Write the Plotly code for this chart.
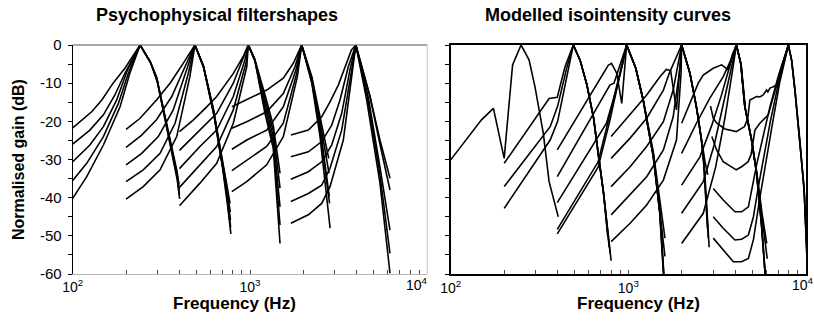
import plotly.graph_objects as go

# ---------------- data: (frequency Hz, normalised gain dB) ----------------
# Left panel: psychophysical filter shapes
psy_250_low = [
    [(100, -21.7), (128, -17.5), (146, -14.4), (169, -10), (197, -6.1), (240, 0)],
    [(100, -26), (125, -22.3), (149, -18.3), (173, -13.1), (197, -7.4), (240, 0)],
    [(100, -30.6), (125, -26.2), (149, -21.4), (177, -14.4), (202, -7), (240, 0)],
    [(100, -35.5), (120, -31), (149, -24), (181, -15.3), (206, -7.4), (240, 0)],
    [(100, -40.2), (120, -34.5), (149, -26.2), (185, -16.2), (210, -7.4), (240, 0)],
]
psy_250_up = [
    [(240, 0), (273, -4.2), (297, -8.3), (324, -16.2), (354, -24.9), (386, -32.7), (398, -36.5)],
    [(240, 0), (274, -4.5), (298, -8.8), (325, -16.8), (355, -25.6), (387, -33.5), (399, -37.8)],
    [(240, 0), (275, -4.6), (299, -9.2), (326, -17.4), (356, -26.3), (388, -34.5), (400, -39.2)],
    [(240, 0), (276, -4.8), (300, -9.6), (327, -18), (357, -27), (389, -35.4), (401, -40.3)],
]
psy_500_low = [
    [(200, -22.1), (240, -19.2), (297, -14.4), (354, -10), (420, -4.8), (489, 0)],
    [(200, -26.8), (245, -23.6), (297, -19.6), (362, -13.5), (430, -5.7), (489, 0)],
    [(200, -31.4), (245, -28.4), (304, -24), (369, -17), (439, -6.5), (489, 0)],
    [(200, -35.8), (250, -32.7), (311, -28.4), (378, -20.5), (449, -7.4), (489, 0)],
    [(200, -40.4), (250, -37.1), (311, -32.7), (386, -24), (458, -8.3), (489, 0)],
]
psy_500_up = [
    [(489, 0), (545, -5.3), (620, -16.5), (690, -28.5), (738, -36), (772, -41.5)],
    [(489, 0), (546, -5.5), (622, -17), (693, -29.5), (741, -37.5), (774, -43.8)],
    [(489, 0), (547, -5.7), (624, -17.6), (696, -30.5), (743, -39), (776, -45.8)],
    [(489, 0), (548, -5.9), (626, -18.2), (699, -31.5), (745, -40.5), (778, -47.8)],
    [(489, 0), (549, -6.1), (628, -18.8), (702, -32.5), (747, -42), (780, -49.5)],
]
psy_1000_low = [
    [(400, -22.7), (480, -19.6), (570, -16.2), (649, -13.5), (804, -7.5), (916, -3), (978, 0)],
    [(400, -27.6), (522, -22.3), (649, -17.9), (805, -10), (917, -3.1), (978, 0)],
    [(400, -32.4), (522, -26.6), (649, -22.3), (805, -13.5), (936, -3.9), (978, 0)],
    [(400, -37.3), (522, -31.4), (649, -26.6), (805, -17), (948, -4.8), (978, 0)],
    [(400, -42.1), (522, -36.2), (649, -31), (805, -20.5), (959, -5.7), (978, 0)],
]
psy_1000_up = [
    [(978, 0), (1060, -3.5), (1215, -13), (1352, -21), (1477, -33.6)],
    [(978, 0), (1062, -3.7), (1215, -14.2), (1352, -22.5), (1477, -37.5)],
    [(978, 0), (1064, -3.9), (1215, -15.5), (1352, -24), (1477, -42.4)],
    [(978, 0), (1066, -4.1), (1215, -16.8), (1352, -25.5), (1477, -47.2)],
    [(978, 0), (1068, -4.3), (1215, -18), (1352, -27), (1477, -52)],
]
psy_2000_low = [
    [(790, -16.2), (959, -14.4), (1242, -11.8), (1541, -8.7), (1755, -4.8), (1957, 0)],
    [(790, -21.8), (959, -20.1), (1242, -17.5), (1541, -12.7), (1794, -5.7), (1957, 0)],
    [(790, -27.3), (959, -24.9), (1242, -22.3), (1541, -16.2), (1818, -6.5), (1957, 0)],
    [(790, -32.9), (959, -30.1), (1242, -26.6), (1541, -20.5), (1835, -7.4), (1957, 0)],
    [(790, -38.4), (959, -35.8), (1242, -31.4), (1541, -24), (1850, -8.3), (1957, 0)],
]
psy_2000_up = [
    [(1957, 0), (2232, -8.3), (2483, -18.8), (2780, -29.7)],
    [(1957, 0), (2232, -8.7), (2483, -20), (2790, -33.6)],
    [(1957, 0), (2232, -9.1), (2483, -21.4), (2800, -39.7)],
    [(1957, 0), (2232, -9.5), (2483, -22.6), (2810, -41.5)],
    [(1957, 0), (2232, -10), (2483, -24), (2830, -48)],
]
psy_4000_low = [
    [(1700, -23.6), (2133, -22.3), (2538, -18.8), (2827, -14.9), (3148, -10.5), (3507, -4.8), (3735, -1.3), (3955, 0)],
    [(1700, -29.3), (2133, -28), (2538, -25.3), (2890, -21), (3218, -14.4), (3585, -5.7), (3955, 0)],
    [(1700, -35.2), (2133, -33.2), (2538, -30.6), (2890, -26.2), (3290, -17.9), (3664, -6.5), (3955, 0)],
    [(1700, -41), (2133, -38.9), (2538, -36.7), (2827, -32.3), (3290, -22.3), (3700, -7.4), (3955, 0)],
    [(1700, -46.7), (2133, -44.5), (2538, -41.5), (2827, -37.1), (3360, -24.9), (3735, -8.3), (3955, 0)],
]
psy_4000_up = [
    [(3955, 0), (4751, -13.5), (5409, -24.9), (6160, -34.9)],
    [(3955, 0), (4751, -13.5), (5409, -26), (6160, -38)],
    [(3955, 0), (4650, -13.8), (5409, -32), (6160, -48.5)],
    [(3955, 0), (4600, -14), (5409, -34), (6160, -54.6)],
    [(3955, 0), (4550, -14.4), (5409, -36.2), (6160, -59.8)],
]

# Right panel: modelled isointensity curves
mod_250 = [
    [(100, -30.1), (149, -19.6), (174, -16.6), (200, -29.7), (223, -5.2), (249, 0), (276, -3.9),
     (298, -10.9), (332, -23.1), (358, -35.8), (403, -45)],
]
mod_500_low = [
    [(200, -31), (358, -14), (398, -13.7), (440, -5.7), (490, 0)],
    [(200, -37.1), (363, -21.4), (400, -16), (450, -6), (490, 0)],
    [(200, -42.8), (363, -24.9), (400, -20), (455, -7), (490, 0)],
]
mod_500_up = [
    [(490, 0), (534, -3.9), (581, -10), (635, -18.8), (676, -28.4), (722, -38), (765, -50)],
    [(490, 0), (536, -4.1), (584, -10.4), (638, -19.3), (679, -29), (726, -39), (790, -54.6)],
    [(490, 0), (538, -4.3), (587, -10.8), (641, -19.8), (682, -29.6), (730, -40), (800, -56.5)],
    [(490, 0), (535, -4), (583, -10.2), (637, -19), (678, -28.8), (724, -38.5), (780, -53)],
]
mod_1000_low = [
    [(398, -27.5), (722, -7.4), (770, -5.3), (804, -4.8), (860, -7.4), (918, -15.3), (978, 0)],
    [(398, -34.5), (787, -10.5), (830, -10), (900, -5), (978, 0)],
    [(398, -41.3), (753, -20.5), (850, -12), (940, -4), (978, 0)],
    [(398, -48.3), (676, -30.6), (780, -19), (880, -9), (978, 0)],
    [(398, -49.5), (676, -32), (785, -20), (890, -9), (978, 0)],
]
mod_1000_up = [
    [(978, 0), (1100, -6), (1212, -14.4), (1382, -29.3), (1505, -44.1), (1576, -59.8), (1600, -64)],
    [(978, 0), (1105, -6.3), (1220, -15), (1390, -30), (1512, -45), (1585, -61), (1610, -65)],
    [(978, 0), (1095, -5.8), (1205, -14), (1375, -28.6), (1498, -43.3), (1568, -59), (1590, -63)],
    [(978, 0), (1100, -6), (1212, -14.4), (1382, -28), (1607, -50.6)],
    [(978, 0), (1102, -6.1), (1215, -14.6), (1385, -28.8), (1607, -55.4)],
]
mod_2000_low = [
    [(800, -24), (1023, -18.3), (1268, -13.1), (1506, -8.3), (1636, -6.4), (1730, -6.7), (1866, -17), (1995, 0)],
    [(800, -29.7), (1023, -24.4), (1268, -19.2), (1575, -11.8), (1700, -7.4), (1850, -3.5), (1995, 0)],
    [(800, -37.1), (1023, -31.9), (1268, -26.6), (1575, -20.1), (1788, -11.8), (1995, 0)],
    [(800, -44.5), (1023, -39.3), (1268, -34.5), (1575, -27.5), (1788, -18.8), (1958, -5.7), (1995, 0)],
    [(800, -51.5), (1023, -46.7), (1268, -41.9), (1575, -35.4), (1866, -24.9), (1980, -7.4), (1995, 0)],
]
mod_2000_up = [
    [(1995, 0), (2222, -7.4), (2417, -16.2), (2580, -24.9), (2660, -31), (2740, -40), (2818, -50.6)],
    [(1995, 0), (2230, -7.8), (2430, -17), (2600, -26), (2690, -33), (2770, -42), (2850, -53)],
    [(1995, 0), (2215, -7.1), (2405, -15.6), (2565, -24), (2650, -30.5), (2720, -38), (2790, -48)],
    [(1995, 0), (2222, -7.4), (2417, -16.2), (2590, -25.5), (2700, -30.5), (2800, -34)],
]
mod_4000_low = [
    [(1995, -20.5), (2222, -15.3), (2474, -10), (2640, -7.9), (3005, -6.1), (3350, -5.2), (3480, -5.7),
     (3650, -6.5), (3850, -2.5), (4058, 0)],
    [(1995, -28.4), (2417, -20.5), (2870, -14), (3420, -8.3), (3813, -3.5), (4058, 0)],
    [(1995, -36.7), (2530, -29.3), (2950, -21), (3350, -13), (3750, -5), (4058, 0)],
    [(1995, -44.1), (2640, -35.8), (3050, -26), (3450, -15), (3800, -6), (4058, 0)],
    [(1995, -52), (2640, -44.1), (3100, -32), (3500, -19), (3850, -7), (4058, 0)],
]
mod_4000_up = [
    [(4058, 0), (4300, -5), (4530, -16.2), (4940, -24.9), (5270, -33.6), (5630, -47.6), (5870, -59), (5950, -62)],
    [(4058, 0), (4320, -5.3), (4560, -16.8), (4970, -25.5), (5300, -34.5), (5660, -48.5), (5900, -60.5), (5960, -63)],
    [(4058, 0), (4290, -4.8), (4510, -15.8), (4920, -24.3), (5250, -33), (5610, -47), (5850, -58.5), (5940, -62)],
    [(4058, 0), (4300, -5), (4530, -16.2), (4940, -25), (5270, -33), (5650, -44), (6010, -52)],
    [(4058, 0), (4300, -5), (4530, -16.2), (4940, -25), (5270, -33.5), (5680, -46), (6050, -56)],
]
mod_8000_low = [
    [(2900, -16), (3005, -19.2), (3150, -20.5), (3500, -22), (4050, -22.7), (4500, -21.4), (4700, -19.2),
     (4830, -14.4), (5270, -13.5), (5500, -13.6), (5740, -13.1), (6000, -11.8), (6100, -12.3), (6270, -11.3),
     (6500, -11), (6830, -10.5), (7290, -5.7), (7960, 0)],
    [(2950, -24), (3140, -27.5), (3420, -30.6), (3900, -32.3), (4050, -32.7), (4340, -31.9), (4720, -30.6),
     (4900, -28.8), (5160, -22.3), (5500, -20.5), (6130, -18.3), (6500, -14), (7000, -9), (7960, 0)],
    [(3005, -37.6), (3420, -40.6), (3980, -43.7), (4340, -43.7), (4740, -42.4), (5060, -36.2), (5270, -31.4),
     (6266, -16.2), (7000, -8), (7960, 0)],
    [(3005, -45), (3420, -48), (3980, -51.1), (4340, -50.9), (4740, -49.8), (5060, -45), (5400, -37),
     (6300, -20), (7000, -10), (7960, 0)],
    [(3005, -50.6), (3420, -53.7), (3900, -56.8), (4340, -56.8), (4740, -55.9), (5060, -51), (5500, -40),
     (6400, -22), (7100, -10), (7960, 0)],
]
mod_8000_up = [
    [(7960, 0), (8300, -4), (8660, -11.8), (9240, -24.9), (9770, -38), (9950, -47.6), (10100, -55)],
    [(7960, 0), (8320, -4.3), (8700, -12.5), (9280, -26), (9800, -39.5), (10000, -49), (10100, -54)],
    [(7960, 0), (8280, -3.7), (8630, -11.2), (9200, -24), (9740, -37), (9930, -46), (10100, -53)],
]

x_tick_vals = [100, 200, 300, 400, 500, 600, 700, 800, 900,
               1000, 2000, 3000, 4000, 5000, 6000, 7000, 8000, 9000, 10000]
x_tick_text = ['10<sup>2</sup>', '', '', '', '', '', '', '', '',
               '10<sup>3</sup>', '', '', '', '', '', '', '', '', '']
y_tick_vals = [0, -5, -10, -15, -20, -25, -30, -35, -40, -45, -50, -55, -60]
y_tick_text = ['0', '', '-10', '', '-20', '', '-30', '', '-40', '', '-50', '', '-60']

left_groups = [psy_250_low, psy_250_up, psy_500_low, psy_500_up, psy_1000_low, psy_1000_up,
               psy_2000_low, psy_2000_up, psy_4000_low, psy_4000_up]
right_groups = [mod_250, mod_500_low, mod_500_up, mod_1000_low, mod_1000_up, mod_2000_low,
                mod_2000_up, mod_4000_low, mod_4000_up, mod_8000_low, mod_8000_up]

FONT = "Arial, 'Liberation Sans', Helvetica, sans-serif"
W, H = 814, 324

fig = go.Figure()


def add_group(curves, xa, ya):
    for c in curves:
        fig.add_trace(go.Scatter(
            x=[p[0] for p in c], y=[p[1] for p in c], mode='lines',
            line=dict(color='black', width=1.6),
            xaxis=xa, yaxis=ya, showlegend=False, hoverinfo='skip'))


for g in left_groups:
    add_group(g, 'x', 'y')
for g in right_groups:
    add_group(g, 'x2', 'y2')

ydom = [(H - 274) / H, (H - 45) / H]
x1dom = [72.7 / W, 427.3 / W]
x2dom = [450.7 / W, 806 / W]

common_x = dict(type='log', range=[2, 4], tickvals=x_tick_vals, ticktext=x_tick_text,
                showgrid=False, zeroline=False,
                ticks='inside', ticklen=4, tickcolor='#444', automargin=False,
                tickfont=dict(family=FONT, size=14, color='black'))
common_y = dict(range=[-60, 0], tickvals=y_tick_vals, showgrid=False, zeroline=False,
                ticks='outside', ticklen=4, tickcolor='black', automargin=False)

fig.update_layout(
    width=W, height=H, autosize=False,
    margin=dict(l=0, r=0, t=0, b=0, pad=0),
    paper_bgcolor='white', plot_bgcolor='white',
    font=dict(family=FONT, color='black'),
    xaxis=dict(domain=x1dom, anchor='y', showline=True, linecolor='#b5b5b5', linewidth=1,
               **common_x),
    yaxis=dict(domain=ydom, anchor='x', showline=True, linecolor='black', linewidth=1.2,
               ticktext=y_tick_text, tickfont=dict(family=FONT, size=15, color='black'),
               ticklabelstandoff=3, **common_y),
    xaxis2=dict(domain=x2dom, anchor='y2', showline=True, mirror=True, linecolor='black', linewidth=1.6,
                **common_x),
    yaxis2=dict(domain=ydom, anchor='x2', showline=True, mirror=True, linecolor='black', linewidth=1.6,
                showticklabels=False, **common_y),
)

# frame of left panel (top dark-grey, right light-grey)
fig.add_shape(type='line', xref='x domain', yref='y domain', x0=0, x1=1, y0=1, y1=1,
              line=dict(color='#555555', width=1.2))
fig.add_shape(type='line', xref='x domain', yref='y domain', x0=1, x1=1, y0=0, y1=1,
              line=dict(color='#c8c8c8', width=1))

ann = [
    dict(text='<b>Psychophysical filtershapes</b>', x=217 / W, y=1 - 15.5 / H, size=18),
    dict(text='<b>Modelled isointensity curves</b>', x=607.5 / W, y=1 - 15.5 / H, size=18),
    dict(text='<b>Frequency (Hz)</b>', x=234 / W, y=1 - 303 / H, size=17),
    dict(text='<b>Frequency (Hz)</b>', x=638 / W, y=1 - 303 / H, size=17),
    dict(text='10<sup>4</sup>', x=417 / W, y=1 - 284 / H, size=14),
    dict(text='10<sup>4</sup>', x=803 / W, y=1 - 284 / H, size=14),
]
for a in ann:
    fig.add_annotation(text=a['text'], x=a['x'], y=a['y'], xref='paper', yref='paper',
                       xanchor='center', yanchor='middle', showarrow=False,
                       font=dict(family=FONT, size=a['size'], color='black'))
fig.add_annotation(text='<b>Normalised gain (dB)</b>', x=18 / W, y=1 - 160 / H, xref='paper', yref='paper',
                   xanchor='center', yanchor='middle', textangle=-90, showarrow=False,
                   font=dict(family=FONT, size=16, color='black'))

fig.write_html('out.html')
